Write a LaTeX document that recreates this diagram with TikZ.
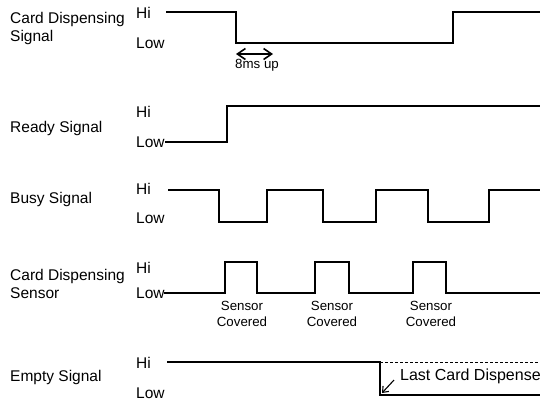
\documentclass[tikz,border=0pt]{standalone}
\usepackage{fontspec}
\setmainfont{Liberation Sans}
\usetikzlibrary{arrows.meta}

\begin{document}
\begin{tikzpicture}[
        x=1pt, y=-1pt,
        signame/.style={anchor=west, inner sep=0pt, align=left, font=\fontsize{15.5}{18}\selectfont},
        lvl/.style={anchor=west, inner sep=0pt, font=\fontsize{15.5}{18}\selectfont},
        note/.style={inner sep=0pt, align=center, font=\fontsize{13.3}{16}\selectfont},
        wave/.style={line width=1.3pt, line join=miter},
        barb/.style={line width=1.6pt},
    ]
        \useasboundingbox (0,0) rectangle (540,400);

        % Card dispensing signal
        \node[signame] (CDSNAME) at (10,28) {Card Dispensing\\Signal};
        \node[lvl] (CDSHI) at (136,13) {Hi};
        \node[lvl] (CDSLO) at (136,43) {Low};
        \draw[wave] (166,12) -- (236,12) -- (236,43) -- (453,43) -- (453,12) -- (540,12);
        \coordinate (T8L) at (236,54);
        \coordinate (T8R) at (273,54);
        \draw[barb, {Straight Barb[length=8pt,width=11pt]}-{Straight Barb[length=8pt,width=11pt]}] (T8L) -- (T8R);
        \node[note] (T8) at (257,65) {8ms up};

        % Ready signal
        \node[signame] (RDYNAME) at (10,128) {Ready Signal};
        \node[lvl] (RDYHI) at (136,112) {Hi};
        \node[lvl] (RDYLO) at (136,142) {Low};
        \draw[wave] (165,142) -- (227,142) -- (227,106) -- (540,106);

        % Busy signal
        \node[signame] (BSYNAME) at (10,199) {Busy Signal};
        \node[lvl] (BSYHI) at (136,189) {Hi};
        \node[lvl] (BSYLO) at (136,218) {Low};
        \draw[wave] (168,190) -- (219,190) -- (219,222) -- (267,222) -- (267,190)
            -- (323,190) -- (323,222) -- (376,222) -- (376,190) -- (428,190)
            -- (428,222) -- (489,222) -- (489,190) -- (540,190);

        % Card dispensing sensor
        \node[signame] (SNSNAME) at (10,284) {Card Dispensing\\Sensor};
        \node[lvl] (SNSHI) at (136,268) {Hi};
        \node[lvl] (SNSLO) at (136,293) {Low};
        \draw[wave] (164,293) -- (225,293) -- (225,262) -- (257,262) -- (257,293)
            -- (315,293) -- (315,262) -- (349,262) -- (349,293) -- (413,293)
            -- (413,262) -- (446,262) -- (446,293) -- (540,293);
        \foreach \px/\nm in {242/SC1, 332/SC2, 431/SC3}
            \node[note] (\nm) at (\px,314) {Sensor\\Covered};

        % Empty signal
        \node[signame] (EMPNAME) at (10,377) {Empty Signal};
        \node[lvl] (EMPHI) at (136,363) {Hi};
        \node[lvl] (EMPLO) at (136,393) {Low};
        \draw[wave] (167,362) -- (380,362) -- (380,395) -- (540,395);
        \draw[line width=0.9pt, dash pattern=on 3pt off 2pt] (380,362) -- (540,362);
        \coordinate (LCA) at (394,380);
        \coordinate (LCB) at (382,393);
        \draw[barb, line width=1.1pt, -{Straight Barb[length=5pt,width=8pt]}] (LCA) -- (LCB);
        \node[lvl, font=\fontsize{16}{18}\selectfont] (LCD) at (400,376) {Last Card Dispense};
    \end{tikzpicture}
\end{document}
